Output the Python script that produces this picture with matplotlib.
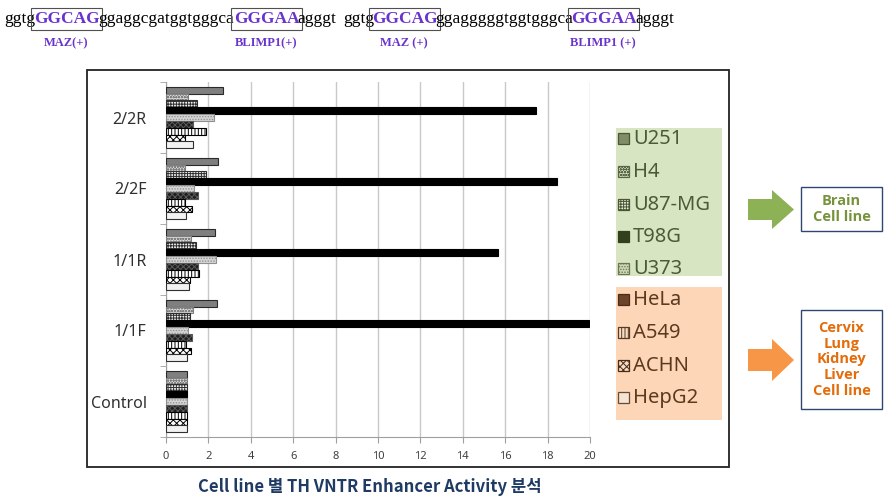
import matplotlib
matplotlib.use("Agg")
import matplotlib.pyplot as plt
from matplotlib.patches import Rectangle, Polygon
import numpy as np

plt.rcParams['font.family'] = ['Noto Sans', 'Noto Sans CJK KR', 'DejaVu Sans']
plt.rcParams['hatch.linewidth'] = 0.7

# ---------------- data ----------------
categories = ["Control", "1/1F", "1/1R", "2/2F", "2/2R"]
series_names = ["U251", "H4", "U87-MG", "T98G", "U373", "HeLa", "A549", "ACHN", "HepG2"]
U251 = [1.0, 2.41, 2.30, 2.47, 2.71]
H4 = [1.0, 1.28, 1.17, 0.90, 1.02]
U87MG = [1.0, 1.12, 1.42, 1.87, 1.45]
T98G = [1.0, 19.97, 15.67, 18.46, 17.45]
U373 = [1.0, 1.02, 2.36, 1.34, 2.25]
HeLa = [1.0, 1.21, 1.50, 1.53, 1.28]
A549 = [1.0, 0.94, 1.56, 0.91, 1.89]
ACHN = [1.0, 1.18, 1.13, 1.21, 0.91]
HepG2 = [1.0, 0.98, 1.07, 0.94, 1.28]
series_values = [U251, H4, U87MG, T98G, U373, HeLa, A549, ACHN, HepG2]
x_ticks = [0, 2, 4, 6, 8, 10, 12, 14, 16, 18, 20]

seq_segments = [("ggtg", False), ("GGCAG", True), ("ggaggcgatggtgggca", False), ("GGGAA", True),
                ("agggt", False), ("ggtg", False), ("GGCAG", True), ("ggagggggtggtgggca", False),
                ("GGGAA", True), ("agggt", False)]
motif_labels = ["MAZ(+)", "BLIMP1(+)", "MAZ (+)", "BLIMP1 (+)"]
title_text = "Cell line 별 TH VNTR Enhancer Activity 분석"

# ---------------- styles ----------------
bar_styles = [
    dict(fc='#7f7f7f', ec='#2a2a2a', hatch=None),
    dict(fc='#e0e0e0', ec='#808080', hatch='oooooo'),
    dict(fc='#f0f0f0', ec='#303030', hatch='++++++'),
    dict(fc='black', ec='black', hatch=None),
    dict(fc='#d6d6d6', ec='#909090', hatch='......'),
    dict(fc='#1e1e1e', ec='#5a5a5a', hatch='xxxxxx'),
    dict(fc='white', ec='black', hatch='|||||'),
    dict(fc='#ffffff', ec='black', hatch='xxxxx'),
    dict(fc='#f2f2f2', ec='#303030', hatch=None),
]
legend_styles = [
    dict(fc='#7f8c66', ec='#4a5636', hatch=None),
    dict(fc='#d9e2c6', ec='#5a6646', hatch='oooooo'),
    dict(fc='#e8eedc', ec='#4a5636', hatch='++++++'),
    dict(fc='#33401f', ec='#33401f', hatch=None),
    dict(fc='#cfd9b8', ec='#6a7656', hatch='......'),
    dict(fc='#6b4329', ec='#4a2c18', hatch=None),
    dict(fc='#f6dcc4', ec='#5a3a22', hatch='|||||'),
    dict(fc='#f6dcc4', ec='#4a2c18', hatch='xxxxx'),
    dict(fc='#f3e4d4', ec='#6a4a32', hatch=None),
]

W, H = 893, 503
fig = plt.figure(figsize=(W / 100, H / 100), dpi=100)
fig.patch.set_facecolor('white')


def fx(x):
    return x / W


def fy(y):
    return 1 - y / H


# outer chart border
fig.add_artist(Rectangle((fx(87), fy(467)), fx(729) - fx(87), fy(70) - fy(467),
                         transform=fig.transFigure, fill=False, ec='#222222', lw=1.3))

# ---------------- axes ----------------
ax = fig.add_axes([fx(166), fy(437), fx(590) - fx(166), fy(82) - fy(437)])
n = len(series_names)
bh = 0.096
ypos = np.arange(len(categories))
for i, (vals, st) in enumerate(zip(series_values, bar_styles)):
    off = (n // 2 - i) * bh
    ax.barh(ypos + off, vals, height=bh, color=st['fc'], edgecolor=st['ec'],
            hatch=st['hatch'], linewidth=0.8, zorder=3)

ax.set_xlim(0, 20)
ax.set_ylim(-0.5, len(categories) - 0.5)
ax.set_xticks(x_ticks)
ax.set_xticklabels([str(t) for t in x_ticks], fontsize=8, color='#404040')
ax.set_yticks(ypos)
ax.set_yticklabels(categories, fontsize=11.5, color='#303030')
ax.set_yticks(np.arange(len(categories) + 1) - 0.5, minor=True)
ax.tick_params(axis='y', which='major', length=0, pad=14)
ax.tick_params(axis='y', which='minor', length=4, color='#a0a0a0', direction='out')
ax.tick_params(axis='x', which='major', length=4, color='#a0a0a0', direction='out', pad=6)
ax.grid(axis='x', color='#c8c8c8', lw=1.0, zorder=0)
for s in ['top', 'right']:
    ax.spines[s].set_visible(False)
ax.spines['left'].set_color('#a0a0a0')
ax.spines['bottom'].set_color('#a0a0a0')
ax.set_facecolor('white')

# ---------------- legend ----------------
fig.add_artist(Rectangle((fx(616), fy(276)), fx(722) - fx(616), fy(128) - fy(276),
                         transform=fig.transFigure, fc='#d8e5c3', ec='none'))
fig.add_artist(Rectangle((fx(616), fy(420)), fx(722) - fx(616), fy(287) - fy(420),
                         transform=fig.transFigure, fc='#fcd6b6', ec='none'))
leg_y = [139, 172, 205, 237, 269, 300, 333, 366, 398]
for i, name in enumerate(series_names):
    st = legend_styles[i]
    y = leg_y[i]
    fig.add_artist(Rectangle((fx(618), fy(y + 5)), fx(11), fx(11) * W / H,
                             transform=fig.transFigure, fc=st['fc'], ec=st['ec'],
                             hatch=st['hatch'], lw=0.9))
    fig.text(fx(633), fy(y), name, fontsize=14.5, color='#4b5a37' if i < 5 else '#5b3a1f',
             ha='left', va='center')

# ---------------- arrows & boxes ----------------
def arrow(y0, y1, yb0, yb1, color):
    pts = [(748, yb0), (772, yb0), (772, y0), (794, (y0 + y1) / 2), (772, y1), (772, yb1), (748, yb1)]
    fig.add_artist(Polygon([(fx(a), fy(b)) for a, b in pts], closed=True,
                           transform=fig.transFigure, fc=color, ec='none'))


arrow(190, 229, 199, 220, '#8db255')
arrow(339, 381, 349, 371, '#f79646')
fig.add_artist(Rectangle((fx(801), fy(231)), fx(882) - fx(801), fy(187) - fy(231),
                         transform=fig.transFigure, fill=False, ec='#2f4670', lw=1.0))
fig.add_artist(Rectangle((fx(801), fy(409)), fx(882) - fx(801), fy(310) - fy(409),
                         transform=fig.transFigure, fill=False, ec='#2f4670', lw=1.0))
fig.text(fx(841.5), fy(209), "Brain\nCell line", ha='center', va='center', fontsize=10.5,
         fontweight='bold', color='#76933c', linespacing=1.15, family='Open Sans')
fig.text(fx(841.5), fy(359.5), "Cervix\nLung\nKidney\nLiver\nCell line", ha='center', va='center',
         fontsize=10.5, fontweight='bold', color='#e46c0a', linespacing=1.15, family='Open Sans')

# ---------------- title ----------------
fig.text(fx(370), fy(487), title_text, ha='center', va='center', fontsize=12,
         fontweight='bold', color='#1f3b64', family=['Noto Sans CJK KR'])

# ---------------- sequence line ----------------
seg_x = [4, 33, 98, 233, 297, 343, 371, 435, 570, 635]
purple = '#6a33cc'
motif_centers = []
for (txt, motif), x in zip(seq_segments, seg_x):
    if motif:
        fig.text(fx(x + 1), fy(19), txt, ha='left', va='center', fontsize=12.5,
                 family='Liberation Serif', fontweight='bold', color=purple,
                 bbox=dict(boxstyle='square,pad=0.15', fc='none', ec='#505050', lw=0.8))
        motif_centers.append(x + 33)
    else:
        fig.text(fx(x), fy(19), txt, ha='left', va='center', fontsize=12.5,
                 family='Liberation Serif', color='black')
for lab, cx in zip(motif_labels, motif_centers):
    fig.text(fx(cx), fy(43), lab, ha='center', va='center', fontsize=9,
             family='Liberation Serif', fontweight='bold', color=purple)

fig.savefig("out.png", dpi=100)
